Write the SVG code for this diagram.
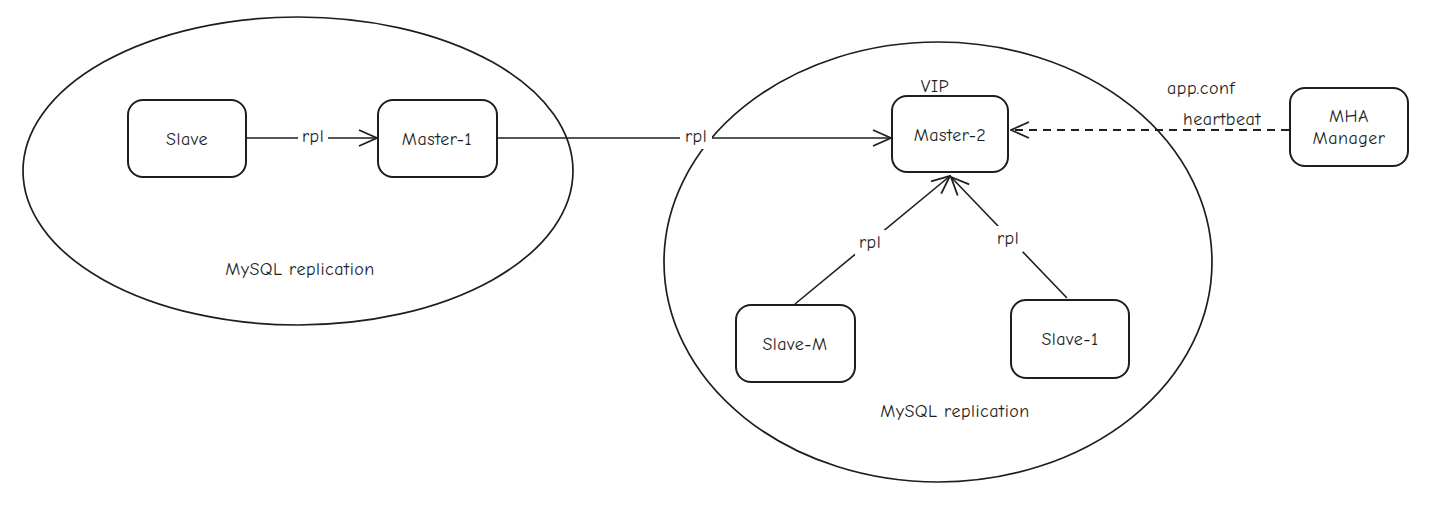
<svg xmlns="http://www.w3.org/2000/svg" width="1436" height="523" viewBox="0 0 1436 523">
<style>
.bound{fill:none;stroke:#1e1e1e;stroke-width:1.7}
.node rect{fill:#fff;stroke:#1e1e1e;stroke-width:2}
text{font-family:"Comic Neue","Liberation Sans",sans-serif;font-size:18px;letter-spacing:0.5px;fill:#1e1e1e;text-anchor:middle;dominant-baseline:central}
.edge{fill:none;stroke:#1e1e1e;stroke-width:1.6}
.dash{stroke-dasharray:8 6;stroke-width:2}
.lbl{fill:#fff;stroke:none}
</style>
<defs>
<marker id="arr" viewBox="0 0 20 20" refX="19" refY="10" markerWidth="20" markerHeight="20" markerUnits="userSpaceOnUse" orient="auto">
<path d="M1,2 L19,10 L1,18" fill="none" stroke="#1e1e1e" stroke-width="1.8"/>
</marker>
</defs>
<rect width="1436" height="523" fill="#fff"/>
<g id="boundaries">
<ellipse class="bound" cx="298" cy="171" rx="275" ry="154"/>
<ellipse class="bound" cx="938" cy="262" rx="274" ry="220"/>
<text x="300" y="269">MySQL replication</text>
<text x="955" y="411">MySQL replication</text>
</g>
<g id="connectors">
<line class="edge" x1="247" y1="138" x2="377" y2="138" marker-end="url(#arr)"/>
<rect class="lbl" x="298" y="127" width="30" height="22"/>
<text x="313" y="136">rpl</text>
<line class="edge" x1="497" y1="138" x2="891" y2="138" marker-end="url(#arr)"/>
<rect class="lbl" x="680" y="127" width="32" height="22"/>
<text x="696" y="136">rpl</text>
<line class="edge" x1="795" y1="304" x2="950" y2="176" marker-end="url(#arr)"/>
<rect class="lbl" x="855" y="230" width="30" height="26"/>
<text x="870" y="242">rpl</text>
<line class="edge" x1="1067" y1="298" x2="951" y2="177" marker-end="url(#arr)"/>
<rect class="lbl" x="993" y="226" width="30" height="26"/>
<text x="1008" y="238">rpl</text>
<line class="edge dash" x1="1289" y1="130" x2="1011" y2="130" marker-end="url(#arr)"/>
<text x="1201" y="88">app.conf</text>
<text x="1222" y="119">heartbeat</text>
</g>
<g id="slave" class="node">
<rect x="128" y="100" width="118" height="77" rx="15"/>
<text x="187" y="139">Slave</text>
</g>
<g id="master1" class="node">
<rect x="378" y="100" width="119" height="77" rx="15"/>
<text x="437" y="139">Master-1</text>
</g>
<g id="master2" class="node">
<text x="935" y="86">VIP</text>
<rect x="892" y="96" width="116" height="76" rx="15"/>
<text x="950" y="135">Master-2</text>
</g>
<g id="mha" class="node">
<rect x="1290" y="88" width="118" height="78" rx="15"/>
<text x="1349" y="116">MHA</text>
<text x="1349" y="138">Manager</text>
</g>
<g id="slavem" class="node">
<rect x="736" y="305" width="119" height="77" rx="15"/>
<text x="795" y="344">Slave-M</text>
</g>
<g id="slave1" class="node">
<rect x="1011" y="300" width="118" height="78" rx="15"/>
<text x="1070" y="339">Slave-1</text>
</g>
</svg>
